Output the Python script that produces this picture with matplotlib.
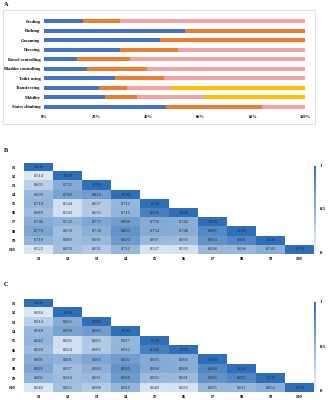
import matplotlib
matplotlib.use("Agg")
import matplotlib.pyplot as plt
import numpy as np
from matplotlib.colors import LinearSegmentedColormap, Normalize
from matplotlib.cm import ScalarMappable
from matplotlib.patches import Rectangle

plt.rcParams["font.family"] = ["Liberation Serif", "DejaVu Serif"]

# ---- panel A data (percent of patients per level) ----
activities = ["Feeding", "Bathing", "Grooming", "Dressing", "Bowel controlling",
              "Bladder controlling", "Toilet using", "Transferring", "Mobility",
              "Stairs climbing"]
level1 = [15.0, 54.0, 44.4, 29.0, 12.5, 16.6, 27.3, 21.2, 23.5, 46.7]
level2 = [14.3, 46.0, 55.6, 22.5, 20.5, 22.7, 18.6, 10.7, 12.0, 37.0]
level3 = [70.7, 0.0, 0.0, 48.5, 67.0, 60.7, 54.1, 17.3, 25.7, 16.3]
level4 = [0.0, 0.0, 0.0, 0.0, 0.0, 0.0, 0.0, 50.8, 38.8, 0.0]
level_colors = ["#4472C4", "#ED7D31", "#F4A3A3", "#FFC000"]

# ---- panel B/C data ----
items = ["I1", "I2", "I3", "I4", "I5", "I6", "I7", "I8", "I9", "I10"]
corr_rows = [
    [1.000],
    [0.514, 1.000],
    [0.606, 0.752, 1.000],
    [0.699, 0.789, 0.815, 1.000],
    [0.719, 0.544, 0.637, 0.712, 1.000],
    [0.688, 0.543, 0.633, 0.715, 0.928, 1.000],
    [0.746, 0.722, 0.771, 0.808, 0.756, 0.745, 1.000],
    [0.779, 0.678, 0.734, 0.853, 0.754, 0.748, 0.896, 1.000],
    [0.719, 0.680, 0.696, 0.820, 0.697, 0.693, 0.854, 0.901, 1.000],
    [0.522, 0.670, 0.631, 0.712, 0.527, 0.533, 0.698, 0.698, 0.743, 1.000],
]
pval_rows = [
    [1.000],
    [0.034, 1.000],
    [0.014, 0.033, 1.000],
    [0.018, 0.038, 0.030, 1.000],
    [0.042, 0.026, 0.006, 0.017, 1.000],
    [0.028, 0.024, 0.006, 0.012, 0.140, 1.000],
    [0.001, 0.001, 0.003, 0.002, 0.003, 0.006, 1.000],
    [0.026, 0.027, 0.020, 0.016, 0.008, 0.008, 0.004, 1.000],
    [0.002, 0.010, 0.031, 0.016, 0.032, 0.031, 0.005, 0.057, 1.000],
    [0.040, 0.035, 0.008, 0.015, 0.040, 0.035, 0.006, 0.011, 0.052, 1.000],
]


def to_matrix(rows):
    n = len(rows)
    m = np.full((n, n), np.nan)
    for i, r in enumerate(rows):
        m[i, :len(r)] = r
    return m


W, H = 328, 400
fig = plt.figure(figsize=(W / 100, H / 100), dpi=100)


def px(x0, y0, x1, y1):
    return [x0 / W, 1 - y1 / H, (x1 - x0) / W, (y1 - y0) / H]


# ---- panel A ----
fig.add_artist(Rectangle((3 / W, 1 - 124 / H), 312 / W, 114 / H,
                         transform=fig.transFigure, fill=False,
                         edgecolor="#D9D9D9", linewidth=0.6))
fig.text(4 / W, 1 - 5 / H, "A", fontsize=4.5, fontweight="bold", va="center")

ax = fig.add_axes(px(44, 16.5, 305, 111.5))
y = np.arange(len(activities))
left = np.zeros(len(activities))
for vals, c in zip([level1, level2, level3, level4], level_colors):
    ax.barh(y, vals, left=left, height=0.45, color=c, linewidth=0)
    left += np.array(vals)
ax.set_xlim(0, 100)
ax.set_ylim(len(activities) - 0.5, -0.5)
ax.set_yticks(y)
ax.set_yticklabels(activities, fontsize=3.2, fontweight="bold")
ax.set_xticks([0, 20, 40, 60, 80, 100])
ax.set_xticklabels(["0%", "20%", "40%", "60%", "80%", "100%"],
                   fontsize=3.2, fontweight="bold")
ax.tick_params(length=0, pad=2.5)
for s in ax.spines.values():
    s.set_visible(False)

# ---- panels B and C ----
cmap = LinearSegmentedColormap.from_list("blues", ["#F2F7FC", "#2E6FB7"])
corr = to_matrix(corr_rows)


def heat(label, label_y, top, bottom, text_rows):
    fig.text(4 / W, 1 - label_y / H, label, fontsize=4.5, fontweight="bold",
             va="center")
    ax = fig.add_axes(px(24, top, 314, bottom))
    data = np.ma.masked_invalid(corr)
    cm = cmap.copy()
    cm.set_bad("white")
    ax.imshow(data, cmap=cm, vmin=0.45, vmax=1.0, aspect="auto",
              interpolation="nearest")
    txt = to_matrix(text_rows)
    for i in range(len(items)):
        for j in range(i + 1):
            ax.text(j, i, f"{txt[i, j]:.3f}", ha="center", va="center",
                    fontsize=3.2, color="#222222")
    ax.set_xticks(range(len(items)))
    ax.set_xticklabels(items, fontsize=3.5, fontweight="bold")
    ax.set_yticks(range(len(items)))
    ax.set_yticklabels(items, fontsize=3.5, fontweight="bold")
    ax.tick_params(axis="x", length=0, pad=2)
    ax.tick_params(axis="y", length=0, pad=6)
    for s in ax.spines.values():
        s.set_visible(False)

    cax = fig.add_axes(px(313.5, top + 3, 315.5, bottom - 2))
    cb = fig.colorbar(ScalarMappable(norm=Normalize(0, 1), cmap=cmap), cax=cax)
    cb.outline.set_visible(False)
    cb.set_ticks([0, 0.5, 1])
    cb.set_ticklabels(["0", "0.5", "1"])
    cax.tick_params(length=0, labelsize=3.5, pad=3)
    for t in cax.get_yticklabels():
        t.set_fontweight("bold")


heat("B", 150, 162.5, 254, corr_rows)
heat("C", 285, 298.5, 392.5, pval_rows)

fig.savefig("out.png", dpi=100)
